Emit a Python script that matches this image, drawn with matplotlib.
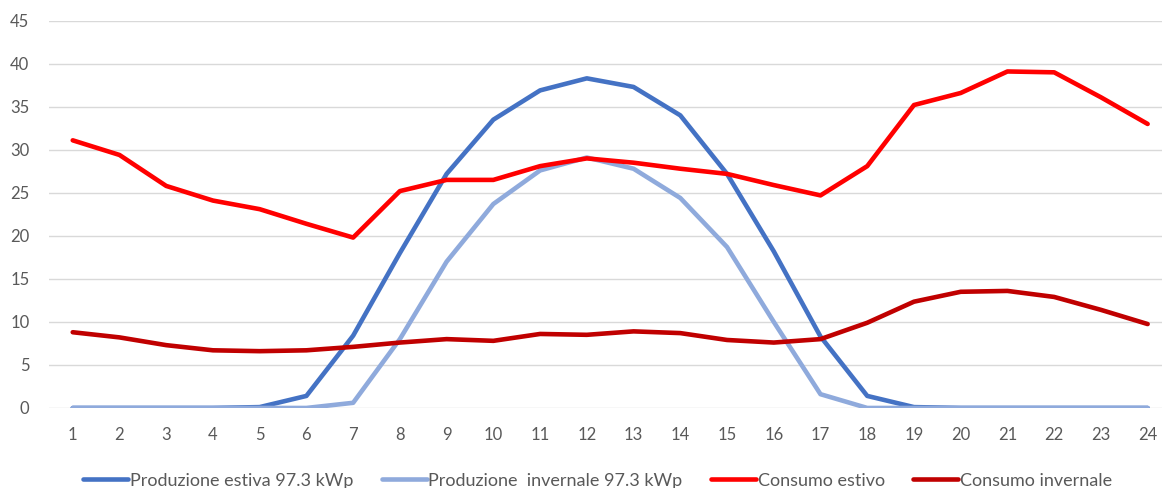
import matplotlib
matplotlib.use("Agg")
import matplotlib.pyplot as plt

plt.rcParams['font.family'] = ['Lato', 'DejaVu Sans']

hours = list(range(1, 25))

prod_estiva = [0, 0, 0, 0, 0.1, 1.4, 8.4, 18.0, 27.2, 33.5, 36.9, 38.3,
               37.3, 34.0, 27.2, 18.2, 8.3, 1.4, 0.1, 0, 0, 0, 0, 0]
prod_invernale = [0, 0, 0, 0, 0, 0, 0.6, 8.0, 17.0, 23.7, 27.6, 29.1,
                  27.8, 24.4, 18.7, 10.0, 1.6, 0, 0, 0, 0, 0, 0, 0]
cons_estivo = [31.1, 29.4, 25.8, 24.1, 23.1, 21.4, 19.8, 25.2, 26.5, 26.5, 28.1, 29.0,
               28.5, 27.8, 27.2, 25.9, 24.7, 28.1, 35.2, 36.6, 39.1, 39.0, 36.1, 33.0]
cons_invernale = [8.8, 8.2, 7.3, 6.7, 6.6, 6.7, 7.1, 7.6, 8.0, 7.8, 8.6, 8.5,
                  8.9, 8.7, 7.9, 7.6, 8.0, 9.9, 12.35, 13.5, 13.6, 12.9, 11.4, 9.75]

labels = ["Produzione estiva 97.3 kWp", "Produzione  invernale 97.3 kWp",
          "Consumo estivo", "Consumo invernale"]
colors = ["#4472C4", "#8FAADC", "#FF0000", "#C00000"]

fig = plt.figure(figsize=(11.64, 4.88), dpi=100)
ax = fig.add_axes([0.042, 0.164, 0.956, 0.7936])

for series, lab, col in zip([prod_estiva, prod_invernale, cons_estivo, cons_invernale],
                            labels, colors):
    ax.plot(hours, series, color=col, lw=3.3, label=lab,
            solid_joinstyle='round', solid_capstyle='round', zorder=3)

ax.set_xlim(0.49, 24.3)
ax.set_ylim(0, 45)
ax.set_yticks(range(0, 46, 5))
ax.set_xticks(hours)
ax.grid(axis='y', color='#D9D9D9', lw=1.0, zorder=0)
ax.set_axisbelow(True)
for s in ax.spines.values():
    s.set_visible(False)
ax.tick_params(axis='both', length=0, labelsize=12, colors='#595959')
ax.tick_params(axis='x', pad=14)
ax.tick_params(axis='y', pad=14)

leg = ax.legend(loc='upper center', bbox_to_anchor=(0.493, -0.125), ncol=4,
                frameon=False, fontsize=13, handlelength=2.5, handletextpad=0.1,
                columnspacing=1.55)
for t in leg.get_texts():
    t.set_color('#595959')

fig.savefig("out.png", dpi=100)
